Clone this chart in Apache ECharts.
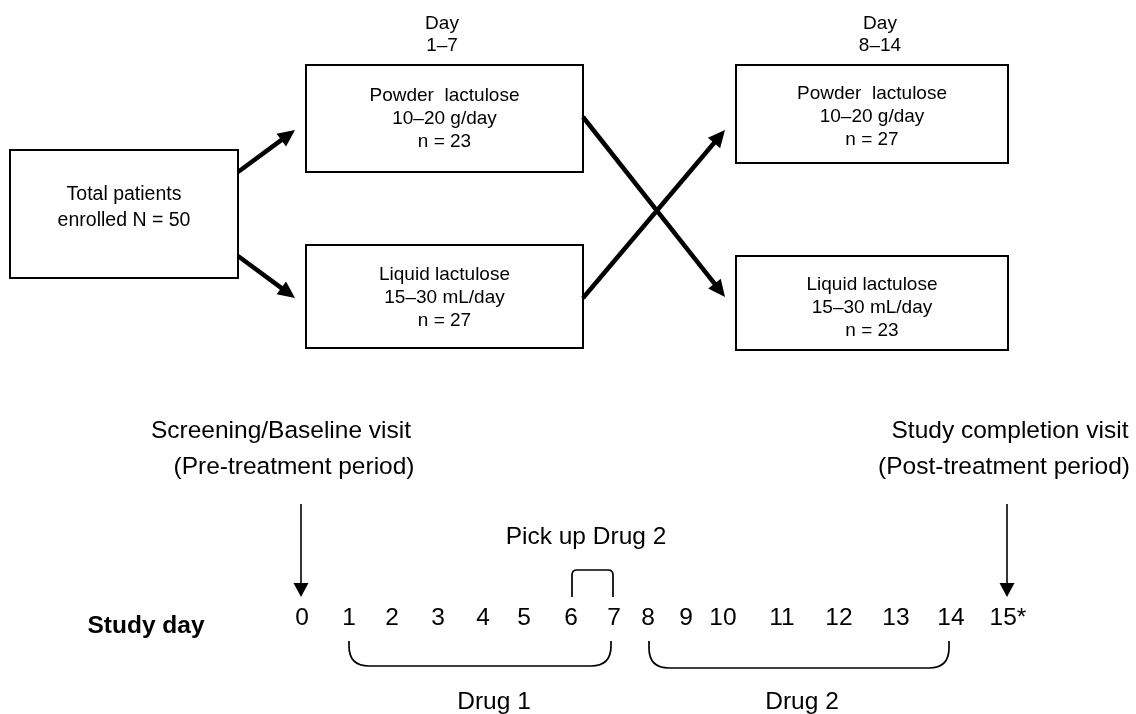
<!DOCTYPE html>
<html><head><meta charset="utf-8">
<script src="https://cdn.jsdelivr.net/npm/echarts@6/dist/echarts.min.js"></script>
<style>html,body{margin:0;padding:0;background:#fff}#c{width:1136px;height:714px}</style>
</head><body><div id="c"></div>
<script>
// ---------------- data ----------------
const totalLabel = ['Total patients', 'enrolled N = 50'];
const periodLabels = ['Day\n1–7', 'Day\n8–14'];
const armDrugs = ['Powder  lactulose', 'Liquid lactulose'];
const armDoses = ['10–20 g/day', '15–30 mL/day'];
const period1N = [23, 27];
const period2N = [27, 23];
const studyDays = ['0','1','2','3','4','5','6','7','8','9','10','11','12','13','14','15*'];
const screeningVisit = ['Screening/Baseline visit', '(Pre-treatment period)'];
const completionVisit = ['Study completion visit', '(Post-treatment period)'];
const pickupLabel = 'Pick up Drug 2';
const drugPeriods = ['Drug 1', 'Drug 2'];
const rowLabel = 'Study day';

// ---------------- layout (pixel coordinates on a hidden 1:1 axis) ----------------
const dayX = [302,349,392,438,483,524,571,614,648,686,723,782,839,896,951,1008];
const boxRects = [
  [10,150,238,278],   // total
  [306,65,583,172],   // powder p1
  [306,245,583,348],  // liquid p1
  [736,65,1008,163],  // powder p2
  [736,256,1008,350]  // liquid p2
];
const boxTextY = [208,119,298,117,308];
const thickArrows = [
  [238,172,295,130],
  [238,256,295,298],
  [583,117,725,297],
  [583,298,725,130]
];
const thinArrows = [
  [301,504,301,597],
  [1007,504,1007,597]
];
const FONT = 'Liberation Sans, Arial, Helvetica, sans-serif';
const BIG = 24.5;

// box texts assembled from data arrays
const boxTexts = [
  totalLabel.join('\n'),
  armDrugs[0] + '\n' + armDoses[0] + '\nn = ' + period1N[0],
  armDrugs[1] + '\n' + armDoses[1] + '\nn = ' + period1N[1],
  armDrugs[0] + '\n' + armDoses[0] + '\nn = ' + period2N[0],
  armDrugs[1] + '\n' + armDoses[1] + '\nn = ' + period2N[1]
];

// free texts: [x, y, text, size, weight, lineHeight]
const freeTexts = [
  [442, 35, periodLabels[0], 19, 'normal', 22],
  [880, 35, periodLabels[1], 19, 'normal', 22],
  [281, 431, screeningVisit[0], BIG, 'normal', 30],
  [294, 467, screeningVisit[1], BIG, 'normal', 30],
  [1010, 431, completionVisit[0], BIG, 'normal', 30],
  [1004, 467, completionVisit[1], BIG, 'normal', 30],
  [586, 537, pickupLabel, BIG, 'normal', 30],
  [146, 626, rowLabel, BIG, 'bold', 30],
  [494, 702, drugPeriods[0], BIG, 'normal', 30],
  [802, 702, drugPeriods[1], BIG, 'normal', 30]
].concat(studyDays.map((d, i) => [dayX[i], 618, d, BIG, 'normal', 30]));

// brackets: [x0, x1, yEdge, yFlat, r]
const brackets = [
  [349, 611, 641, 666, 20],
  [649, 949, 641, 668, 20],
  [572, 613, 597, 570, 5]
];

function textEl(p, txt, size, weight, lh) {
  return {
    type: 'text', x: p[0], y: p[1],
    style: { text: txt, fill: '#000', font: weight + ' ' + size + 'px ' + FONT,
      fontSize: size, fontWeight: weight, fontFamily: FONT, lineHeight: lh,
      align: 'center', verticalAlign: 'middle', textAlign: 'center', textVerticalAlign: 'middle' }
  };
}

function arrowEl(api, lw, hl, hw) {
  const a = api.coord([api.value(0), api.value(1)]);
  const b = api.coord([api.value(2), api.value(3)]);
  const dx = b[0] - a[0], dy = b[1] - a[1];
  const len = Math.sqrt(dx*dx + dy*dy);
  const ux = dx/len, uy = dy/len;
  const bx = b[0] - ux*hl, by = b[1] - uy*hl;
  const px = -uy, py = ux;
  return {
    type: 'group', children: [
      { type: 'line', shape: { x1: a[0], y1: a[1], x2: bx + ux*2, y2: by + uy*2 },
        style: { stroke: '#000', lineWidth: lw } },
      { type: 'polygon', shape: { points: [[b[0], b[1]], [bx + px*hw, by + py*hw], [bx - px*hw, by - py*hw]] },
        style: { fill: '#000' } }
    ]
  };
}

const option = {
  animation: false,
  backgroundColor: '#fff',
  grid: { left: 0, right: 0, top: 0, bottom: 0 },
  xAxis: { type: 'value', min: 0, max: 1136, show: false },
  yAxis: { type: 'value', min: 0, max: 714, inverse: true, show: false },
  series: [
    { // boxes with their text
      type: 'custom', coordinateSystem: 'cartesian2d', silent: true,
      data: boxRects,
      renderItem: function (params, api) {
        const p0 = api.coord([api.value(0), api.value(1)]);
        const p1 = api.coord([api.value(2), api.value(3)]);
        const i = params.dataIndex;
        const cx = (p0[0] + p1[0]) / 2;
        const ty = api.coord([0, boxTextY[i]])[1];
        return { type: 'group', children: [
          { type: 'rect', shape: { x: p0[0], y: p0[1], width: p1[0]-p0[0], height: p1[1]-p0[1] },
            style: { fill: '#fff', stroke: '#000', lineWidth: 2 } },
          textEl([cx, ty], boxTexts[i], i === 0 ? 19.5 : 19, 'normal', i === 0 ? 26 : 23)
        ]};
      }
    },
    { // thick arrows
      type: 'custom', coordinateSystem: 'cartesian2d', silent: true,
      data: thickArrows,
      renderItem: function (params, api) { return arrowEl(api, 4.5, 17, 8); }
    },
    { // thin arrows
      type: 'custom', coordinateSystem: 'cartesian2d', silent: true,
      data: thinArrows,
      renderItem: function (params, api) { return arrowEl(api, 1.6, 14, 7.5); }
    },
    { // brackets
      type: 'custom', coordinateSystem: 'cartesian2d', silent: true,
      data: brackets,
      renderItem: function (params, api) {
        const a = api.coord([api.value(0), api.value(2)]);
        const b = api.coord([api.value(1), api.value(3)]);
        const r = api.value(4);
        const x0 = a[0], x1 = b[0], ye = a[1], yf = b[1];
        const s = yf > ye ? 1 : -1;
        const d = 'M' + x0 + ' ' + ye +
          ' L' + x0 + ' ' + (yf - s*r) +
          ' Q' + x0 + ' ' + yf + ' ' + (x0 + r) + ' ' + yf +
          ' L' + (x1 - r) + ' ' + yf +
          ' Q' + x1 + ' ' + yf + ' ' + x1 + ' ' + (yf - s*r) +
          ' L' + x1 + ' ' + ye;
        return { type: 'path', shape: { pathData: d },
          style: { fill: null, stroke: '#000', lineWidth: 1.7 } };
      }
    },
    { // texts
      type: 'custom', coordinateSystem: 'cartesian2d', silent: true,
      data: freeTexts.map(t => [t[0], t[1]]),
      renderItem: function (params, api) {
        const t = freeTexts[params.dataIndex];
        const p = api.coord([api.value(0), api.value(1)]);
        return textEl(p, t[2], t[3], t[4], t[5]);
      }
    }
  ]
};

const chart = echarts.init(document.getElementById('c'), null, { renderer: 'canvas' });
chart.setOption(option);
</script>
</body></html>
